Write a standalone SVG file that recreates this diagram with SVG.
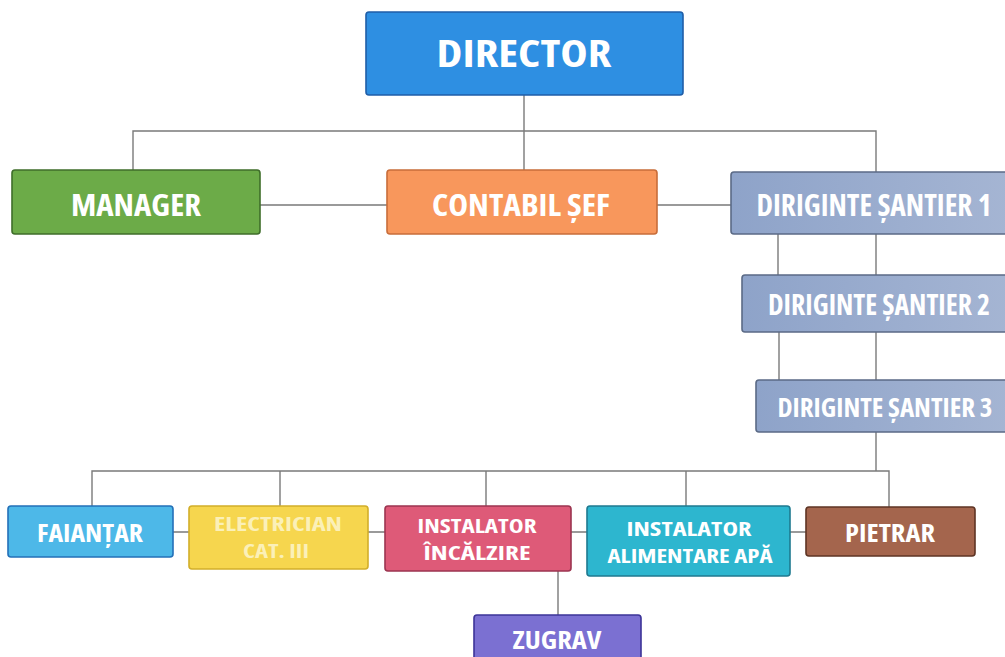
<svg xmlns="http://www.w3.org/2000/svg" width="1005" height="657" viewBox="0 0 1005 657">
<defs>
<linearGradient id="gD" x1="0" y1="0" x2="1" y2="0">
<stop offset="0" stop-color="#8ea3c9"/><stop offset="1" stop-color="#a5b5d3"/>
</linearGradient>
</defs>
<style>
.box{stroke-width:1.6}
.t{font-family:"Open Sans","DejaVu Sans",sans-serif;font-weight:bold;font-stretch:75%;fill:#ffffff;text-anchor:middle}
.c{fill:none;stroke:#7a7a7a;stroke-width:1.4}
</style>
<rect width="1005" height="657" fill="#ffffff"/>
<g id="connectors">
<path class="c" d="M524 95V131M133 170V131H876V172M524 131V170"/>
<path class="c" d="M260 205H388M657 205H731"/>
<path class="c" d="M778 234V275M876 234V275M779 332V380M876 332V380"/>
<path class="c" d="M876 432V471M92 506V471H889V507M280 506V471M486 506V471M686 506V471"/>
<path class="c" d="M173 532H189M368 532H385M571 532H587M790 532H806M558 571V615"/>
</g>
<g id="director">
<rect class="box" x="366" y="12" width="317" height="83" rx="3" fill="#2e8fe2" stroke="#1f5ea8"/>
<text class="t" x="524" y="67" font-size="38" textLength="175" lengthAdjust="spacingAndGlyphs">DIRECTOR</text>
</g>
<g id="manager">
<rect class="box" x="12" y="170" width="248" height="64" rx="3" fill="#6cab48" stroke="#3f6e2a"/>
<text class="t" x="136" y="216" font-size="31" textLength="130" lengthAdjust="spacingAndGlyphs">MANAGER</text>
</g>
<g id="contabil">
<rect class="box" x="387" y="170" width="270" height="64" rx="3" fill="#f8975c" stroke="#c86d3a"/>
<text class="t" x="521" y="216" font-size="31" textLength="178" lengthAdjust="spacingAndGlyphs">CONTABIL ȘEF</text>
</g>
<g id="diriginte1">
<rect class="box" x="731" y="172" width="280" height="62" rx="3" fill="url(#gD)" stroke="#5b6a86"/>
<text class="t" x="874" y="216" font-size="30" textLength="235" lengthAdjust="spacingAndGlyphs">DIRIGINTE ȘANTIER 1</text>
</g>
<g id="diriginte2">
<rect class="box" x="742" y="275" width="270" height="57" rx="3" fill="url(#gD)" stroke="#5b6a86"/>
<text class="t" x="879" y="315" font-size="28" textLength="222" lengthAdjust="spacingAndGlyphs">DIRIGINTE ȘANTIER 2</text>
</g>
<g id="diriginte3">
<rect class="box" x="756" y="380" width="256" height="52" rx="3" fill="url(#gD)" stroke="#5b6a86"/>
<text class="t" x="885" y="417" font-size="27" textLength="215" lengthAdjust="spacingAndGlyphs">DIRIGINTE ȘANTIER 3</text>
</g>
<g id="faiantar">
<rect class="box" x="8" y="506" width="165" height="51" rx="3" fill="#4db8e8" stroke="#2370b8"/>
<text class="t" x="90" y="542" font-size="25" textLength="106" lengthAdjust="spacingAndGlyphs">FAIANȚAR</text>
</g>
<g id="electrician">
<rect class="box" x="189" y="506" width="179" height="63" rx="3" fill="#f6d64e" stroke="#d2ae2a"/>
<text class="t" x="278" y="531" font-size="20" textLength="128" lengthAdjust="spacingAndGlyphs" style="fill:#fbf0b8">ELECTRICIAN</text>
<text class="t" x="276" y="558" font-size="20" textLength="66" lengthAdjust="spacingAndGlyphs" style="fill:#fbf0b8">CAT. III</text>
</g>
<g id="instalator-incalzire">
<rect class="box" x="385" y="506" width="186" height="65" rx="3" fill="#de5a78" stroke="#9c3550"/>
<text class="t" x="477" y="533" font-size="20" textLength="119" lengthAdjust="spacingAndGlyphs">INSTALATOR</text>
<text class="t" x="477" y="560" font-size="20" textLength="107" lengthAdjust="spacingAndGlyphs">ÎNCĂLZIRE</text>
</g>
<g id="instalator-apa">
<rect class="box" x="587" y="506" width="203" height="70" rx="3" fill="#2db6cf" stroke="#1f7a90"/>
<text class="t" x="689" y="536" font-size="20" textLength="125" lengthAdjust="spacingAndGlyphs">INSTALATOR</text>
<text class="t" x="690" y="563" font-size="20" textLength="165" lengthAdjust="spacingAndGlyphs">ALIMENTARE APĂ</text>
</g>
<g id="pietrar">
<rect class="box" x="806" y="507" width="169" height="49" rx="3" fill="#a4654d" stroke="#5e3424"/>
<text class="t" x="890" y="542" font-size="25" textLength="90" lengthAdjust="spacingAndGlyphs">PIETRAR</text>
</g>
<g id="zugrav">
<rect class="box" x="474" y="615" width="167" height="50" rx="3" fill="#7b70d2" stroke="#3d3498"/>
<text class="t" x="557" y="649" font-size="25" textLength="89" lengthAdjust="spacingAndGlyphs">ZUGRAV</text>
</g>
</svg>
